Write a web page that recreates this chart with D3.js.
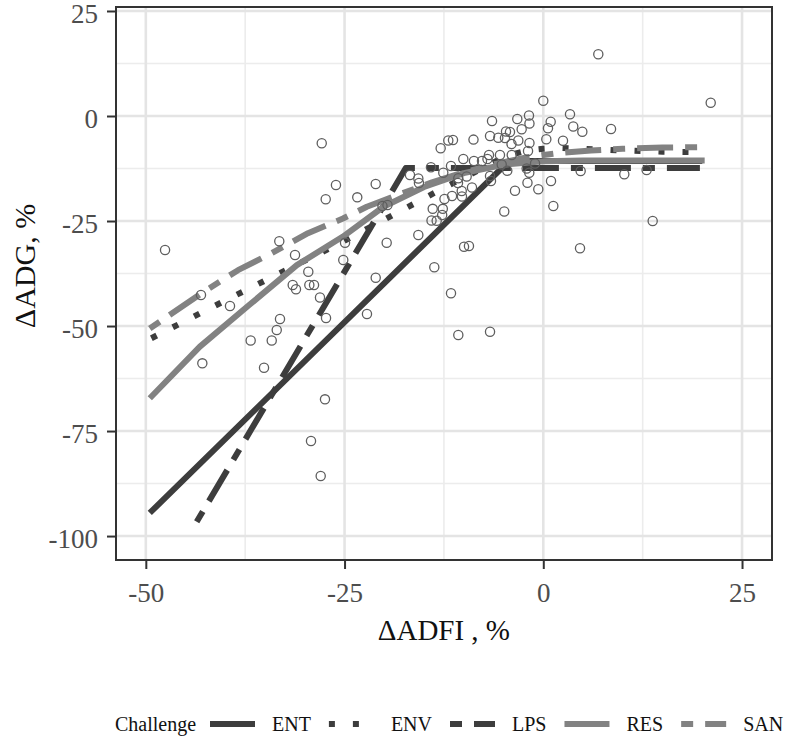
<!DOCTYPE html>
<html>
<head>
<meta charset="utf-8">
<script src="https://cdn.jsdelivr.net/npm/d3@7"></script>
<style>
  html, body { margin: 0; padding: 0; background: #ffffff; }
  svg { display: block; }
</style>
</head>
<body>
<svg id="chart" width="793" height="747"></svg>
<script>
// ---------------- data ----------------
const challenges = ["ENT", "ENV", "LPS", "RES", "SAN"];

const xTicks = [-50, -25, 0, 25];
const yTicks = [25, 0, -25, -50, -75, -100];
const xMinor = [-37.5, -12.5, 12.5];
const yMinor = [12.5, -12.5, -37.5, -62.5, -87.5];

// observed points (ΔADFI, ΔADG)
const pointsX = [
  -27.87, -26.08, -27.37, -21.08, -23.40, -20.23, -19.60, -33.21, -24.94, -19.70,
  -47.58, -31.23, -25.16, -29.56, -31.52, -31.11, -29.43, -28.84, -21.08, -28.09,
  -43.06, -39.41, -36.81, -34.16, -33.53, -33.12, -35.13, -42.89, -27.33, -22.18,
  -27.46, -29.22, -28.00, 6.92, 0.00, 21.06, 3.36, 3.77, 4.91, 8.52,
  -6.45, -3.27, -1.80, -1.74, 0.93, 0.59, -2.72, -4.69, -4.19, -6.70,
  -5.66, -4.82, -3.14, -4.00, -1.74, 0.38, 2.48, -8.78, -11.95, -11.36,
  -12.91, -1.92, -6.83, -5.45, -3.97, -10.06, -8.72, -7.71, -7.02, -11.61,
  -14.13, -5.23, -1.04, -2.09, -1.76, -4.53, -6.70, -9.64, -10.69, -10.73,
  -12.58, -16.77, -15.72, -15.64, 4.70, 10.19, 13.00, -1.99, 0.97, -3.56,
  -0.63, -8.97, -10.26, -11.48, -12.43, -10.23, 1.26, -4.91, -13.91, -12.64,
  -14.06, -13.41, -12.72, 13.76, -15.72, -9.97, -9.35, 4.62, -13.71, -11.61,
  -10.69, -6.70, -6.58
];
const pointsY = [
  -6.50, -16.43, -19.83, -16.19, -19.36, -21.43, -21.19, -29.83, -30.17, -30.17,
  -31.90, -33.10, -34.29, -37.07, -40.24, -41.26, -40.24, -40.24, -38.50, -43.21,
  -42.62, -45.24, -53.45, -53.45, -50.95, -48.33, -59.93, -58.88, -48.10, -47.14,
  -67.45, -77.38, -85.71, 14.69, 3.64, 3.17, 0.40, -2.50, -3.74, -3.10,
  -1.19, -0.71, 0.12, -1.79, -1.36, -2.93, -3.14, -3.69, -3.81, -4.76,
  -5.19, -5.24, -5.83, -6.67, -6.43, -5.55, -5.88, -5.62, -5.83, -5.71,
  -7.69, -8.33, -9.29, -9.29, -9.29, -10.24, -10.71, -10.71, -10.24, -11.90,
  -12.21, -11.55, -11.31, -12.50, -13.50, -13.02, -14.29, -14.40, -14.83, -15.95,
  -13.50, -14.05, -14.88, -15.95, -13.10, -13.88, -12.86, -15.88, -15.48, -17.79,
  -17.43, -17.02, -17.86, -19.05, -19.76, -19.17, -21.43, -22.74, -22.10, -22.10,
  -24.88, -24.93, -23.57, -25.00, -28.33, -31.12, -30.95, -31.50, -36.02, -42.21,
  -52.14, -51.36, -15.48
];

// fitted response curves per challenge: [ΔADFI, ΔADG]
const entCurve = [[-49.5, -94.5], [-4.3, -10.7], [20, -10.7]];
const envCurve = [[-49.3, -52.9], [-40.3, -44.2], [-25.2, -29.9], [-13.4, -18.0], [-6, -10.8],
  [-4, -9.2], [-2, -8.2], [0, -7.8], [2, -7.6], [5, -7.8], [10, -8.2], [15, -8.5], [20, -8.6]];
const lpsCurve = [[-43.6, -96.6], [-17.3, -12.4], [19.7, -12.4]];
const resCurve = [[-49.5, -67.2], [-43.2, -54.9], [-37, -45.0], [-31, -35.5], [-25.2, -28.7],
  [-20.1, -21.6], [-15, -16.9], [-10, -13.6], [-5, -11.6], [0, -10.8], [5, -10.6], [20.3, -10.6]];
const sanCurve = [[-49.5, -50.6], [-43, -42.2], [-38.4, -36.7], [-34.2, -32.7], [-29.6, -27.9],
  [-25.2, -24.4], [-22.2, -21.6], [-18, -18.6], [-14, -15.8], [-10, -13.4], [-6, -11.4],
  [-2, -9.8], [2, -8.8], [6, -8.2], [10, -7.8], [15, -7.5], [20.3, -7.4]];

// ---------------- styles ----------------
const curves = [entCurve, envCurve, lpsCurve, resCurve, sanCurve];
const lineColor = { ENT: "#3d3d3d", ENV: "#3d3d3d", LPS: "#3d3d3d", RES: "#828282", SAN: "#828282" };
const lineDash = { ENT: null, ENV: "6 18", LPS: "12 12 36 12", RES: null, SAN: "12 12 36 12" };
const LW = 6;
const serif = "'Liberation Serif', 'Times New Roman', serif";

const svg = d3.select("#chart");
const P = { left: 116, right: 772, top: 7, bottom: 560 };

const x = d3.scaleLinear().domain([-53.75, 28.77]).range([P.left, P.right]);
const y = d3.scaleLinear().domain([-105.7, 25.95]).range([P.bottom, P.top]);

// background
svg.append("rect").attr("x", 0).attr("y", 0).attr("width", 793).attr("height", 747).attr("fill", "#fff");

// grid
const g = svg.append("g");
g.selectAll(".xminor").data(xMinor).enter().append("line")
  .attr("x1", d => x(d)).attr("x2", d => x(d)).attr("y1", P.top).attr("y2", P.bottom)
  .attr("stroke", "#ececec").attr("stroke-width", 1.6);
g.selectAll(".yminor").data(yMinor).enter().append("line")
  .attr("y1", d => y(d)).attr("y2", d => y(d)).attr("x1", P.left).attr("x2", P.right)
  .attr("stroke", "#ececec").attr("stroke-width", 1.6);
g.selectAll(".xmajor").data(xTicks).enter().append("line")
  .attr("x1", d => x(d)).attr("x2", d => x(d)).attr("y1", P.top).attr("y2", P.bottom)
  .attr("stroke", "#e4e4e4").attr("stroke-width", 2.6);
g.selectAll(".ymajor").data(yTicks).enter().append("line")
  .attr("y1", d => y(d)).attr("y2", d => y(d)).attr("x1", P.left).attr("x2", P.right)
  .attr("stroke", "#e4e4e4").attr("stroke-width", 2.6);

// curves
const line = d3.line().x(d => x(d[0])).y(d => y(d[1]));
challenges.forEach((c, i) => {
  const p = svg.append("path").datum(curves[i])
    .attr("d", line)
    .attr("fill", "none")
    .attr("stroke", lineColor[c])
    .attr("stroke-width", LW)
    .attr("stroke-linecap", "butt")
    .attr("stroke-linejoin", "round");
  if (lineDash[c]) p.attr("stroke-dasharray", lineDash[c]);
});

// points
svg.append("g").selectAll("circle").data(pointsX.map((v, i) => [v, pointsY[i]])).enter()
  .append("circle")
  .attr("cx", d => x(d[0])).attr("cy", d => y(d[1])).attr("r", 4.6)
  .attr("fill", "none").attr("stroke", "#5e5e5e").attr("stroke-width", 1.3);

// panel border
svg.append("rect").attr("x", P.left).attr("y", P.top)
  .attr("width", P.right - P.left).attr("height", P.bottom - P.top)
  .attr("fill", "none").attr("stroke", "#333").attr("stroke-width", 2);

// axes
const fmt = d => String(d);
const xAxis = d3.axisBottom(x).tickValues(xTicks).tickSize(9).tickPadding(6).tickFormat(fmt);
const yAxis = d3.axisLeft(y).tickValues(yTicks).tickSize(9).tickPadding(9).tickFormat(fmt);
const gx = svg.append("g").attr("transform", `translate(0,${P.bottom})`).call(xAxis);
const gy = svg.append("g").attr("transform", `translate(${P.left},0)`).call(yAxis);
[gx, gy].forEach(a => {
  a.select(".domain").remove();
  a.selectAll(".tick line").attr("stroke", "#333").attr("stroke-width", 2);
  a.selectAll(".tick text").attr("fill", "#4d4d4d").style("font-family", serif).style("font-size", "27px");
});
gx.selectAll(".tick text").attr("dy", "1.0em");
gy.selectAll(".tick text").attr("dy", "0.42em");

// axis titles
svg.append("text").attr("x", x(-12.5)).attr("y", 640).attr("text-anchor", "middle")
  .style("font-family", serif).style("font-size", "29px").attr("fill", "#111")
  .text("ΔADFI , %");
svg.append("text").attr("transform", "translate(35,266) rotate(-90)").attr("text-anchor", "middle")
  .style("font-family", serif).style("font-size", "30px").attr("fill", "#111")
  .text("ΔADG, %");

// legend
const leg = svg.append("g").attr("transform", "translate(0,724)");
leg.append("text").attr("x", 115).attr("y", 0).attr("dy", "0.35em")
  .style("font-family", serif).style("font-size", "20px").attr("fill", "#111").text("Challenge");
let cursor = 210;
challenges.forEach((c, i) => {
  const k = leg.append("g").attr("transform", `translate(${cursor},0)`);
  const kl = k.append("line").attr("x1", 0).attr("x2", 45).attr("y1", 0).attr("y2", 0)
    .attr("stroke", lineColor[c]).attr("stroke-width", LW).attr("stroke-linecap", "butt");
  if (lineDash[c]) kl.attr("stroke-dasharray", lineDash[c]);
  const t = k.append("text").attr("x", 62).attr("y", 0).attr("dy", "0.35em")
    .style("font-family", serif).style("font-size", "20px").attr("fill", "#111").text(c);
  cursor += 62 + t.node().getComputedTextLength() + 18;
});
</script>
</body>
</html>
